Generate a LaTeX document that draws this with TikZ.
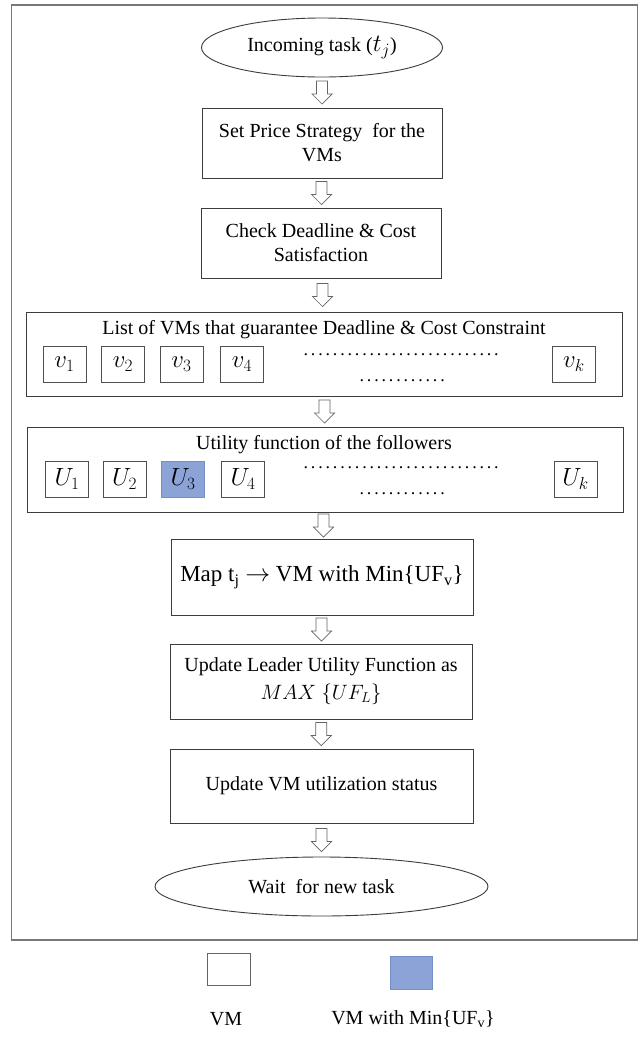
\documentclass[tikz,border=0pt]{standalone}
\usepackage{fontspec}
\setmainfont{Liberation Serif}
\usetikzlibrary{shapes.geometric,calc}
\definecolor{boxc}{RGB}{60,60,60}
\definecolor{framec}{RGB}{120,120,120}
\definecolor{smallc}{RGB}{80,80,80}
\definecolor{arrc}{RGB}{100,100,100}
\definecolor{bluefill}{RGB}{140,163,216}
\definecolor{blueedge}{RGB}{118,141,198}
\newcommand{\dotrow}[2]{\hbox to #1pt{\cleaders\hbox to #2pt{\hss.\hss}\hfill}}
\tikzset{
  mainbox/.style={draw=boxc, line width=0.9pt, inner sep=0pt, align=center,
    font=\fontsize{20}{24}\selectfont},
  ovalbox/.style={draw=boxc, line width=0.9pt, ellipse, inner sep=0pt,
    font=\fontsize{20}{24}\selectfont},
  bigbox/.style={draw=boxc, line width=0.9pt, inner sep=0pt},
  itembox/.style={draw=smallc, line width=0.9pt, minimum width=43pt, minimum height=36pt,
    inner sep=0pt, font=\fontsize{26}{28}\selectfont},
  chosenbox/.style={itembox, draw=blueedge, fill=bluefill},
  titletext/.style={inner sep=0pt, font=\fontsize{20}{24}\selectfont},
  dottext/.style={inner sep=0pt, anchor=base west, font=\fontsize{18}{22}\selectfont},
  legendtext/.style={inner sep=0pt, font=\fontsize{20}{24}\selectfont},
  downarr/.pic={\draw[draw=arrc, line width=0.7pt, fill=white]
     (-5.5,-11.5) -- (-5.5,1.5) -- (-10,1.5) -- (0,11.5) -- (10,1.5) -- (5.5,1.5) -- (5.5,-11.5) -- cycle;}
}
\begin{document}
\begin{tikzpicture}[x=1pt,y=-1pt]
\useasboundingbox (0,0) rectangle (641,1037);
\fill[white] (0,0) rectangle (641,1037);
% outer frame
\draw[framec, line width=1.3pt] (11.5,5) rectangle (637.5,940);

% main flow
\node[ovalbox, minimum width=241pt, minimum height=59pt] (ell1) at (322,47.5) {Incoming\ task ({\fontsize{24}{24}\selectfont$t_j$})};
\node[mainbox, minimum width=240pt, minimum height=70pt] (b1) at (322,143) {Set Price Strategy\ \ for the\\VMs};
\node[mainbox, minimum width=240pt, minimum height=70pt] (b2) at (321,243) {Check Deadline \& Cost\\Satisfaction};

% list of VMs
\node[bigbox, minimum width=596pt, minimum height=84pt] (list) at (324,354) {};
\node[titletext] (listtitle) at (324,330) {List of VMs that guarantee Deadline \& Cost Constraint};
\node[itembox] (v1) at (64.5,364) {$v_1$};
\node[itembox] (v2) at (123,364) {$v_2$};
\node[itembox] (v3) at (181.5,364) {$v_3$};
\node[itembox] (v4) at (242,364) {$v_4$};
\node[itembox] (vk) at (574,364) {$v_k$};
\node[dottext] (vdots1) at (302,355) {\dotrow{198}{7.33}};
\node[dottext] (vdots2) at (358,381) {\dotrow{88}{7.33}};

% utility functions
\node[bigbox, minimum width=596pt, minimum height=85pt] (util) at (325,469.5) {};
\node[titletext] (utiltitle) at (324,445) {Utility function of the followers};
\node[itembox] (u1) at (67,479) {$U_1$};
\node[itembox] (u2) at (124.5,479) {$U_2$};
\node[chosenbox] (u3) at (183,479) {$U_3$};
\node[itembox] (u4) at (243,479) {$U_4$};
\node[itembox] (uk) at (575.5,479) {$U_k$};
\node[dottext] (udots1) at (302,468) {\dotrow{198}{7.33}};
\node[dottext] (udots2) at (358,494) {\dotrow{88}{7.33}};

\node[mainbox, minimum width=302pt, minimum height=76pt, font=\fontsize{23}{26}\selectfont] (map) at (322,577)
  {Map t\textsubscript{j} $\rightarrow$ VM with Min\{UF\textsubscript{v}\}};
\node[mainbox, minimum width=302pt, minimum height=75pt] (lead) at (321,681.5)
  {Update\ Leader\ Utility Function as\\[4pt]{\fontsize{22}{24}\selectfont$MAX\ \{UF_L\}$}};
\node[mainbox, minimum width=303pt, minimum height=74pt] (upd) at (321.5,786) {Update\ VM utilization status};
\node[ovalbox, minimum width=333pt, minimum height=59pt] (ell2) at (321.5,886.5) {Wait\ \ for new task};

% block arrows
\pic at ($(ell1.south)!0.5!(b1.north)$) {downarr};
\pic at ($(b1.south)!0.5!(b2.north)$) {downarr};
\pic at ($(b2.south)!0.5!(list.north)$) {downarr};
\pic at ($(list.south)!0.5!(util.north)$) {downarr};
\pic at ($(util.south)!0.5!(map.north)$) {downarr};
\pic at ($(map.south)!0.5!(lead.north)$) {downarr};
\pic at ($(lead.south)!0.5!(upd.north)$) {downarr};
\pic at ($(upd.south)!0.5!(ell2.north)$) {downarr};

% legend
\node[draw=arrc, line width=0.9pt, minimum width=43pt, minimum height=32pt, inner sep=0pt] (legvm) at (228.5,969) {};
\node[draw=blueedge, fill=bluefill, line width=0.6pt, minimum width=42pt, minimum height=33pt, inner sep=0pt] (legmin) at (411,972.5) {};
\node[legendtext] (legvmtext) at (226,1019) {VM};
\node[legendtext] (legmintext) at (413,1019) {VM with Min\{UF\textsubscript{v}\}};
\end{tikzpicture}
\end{document}
